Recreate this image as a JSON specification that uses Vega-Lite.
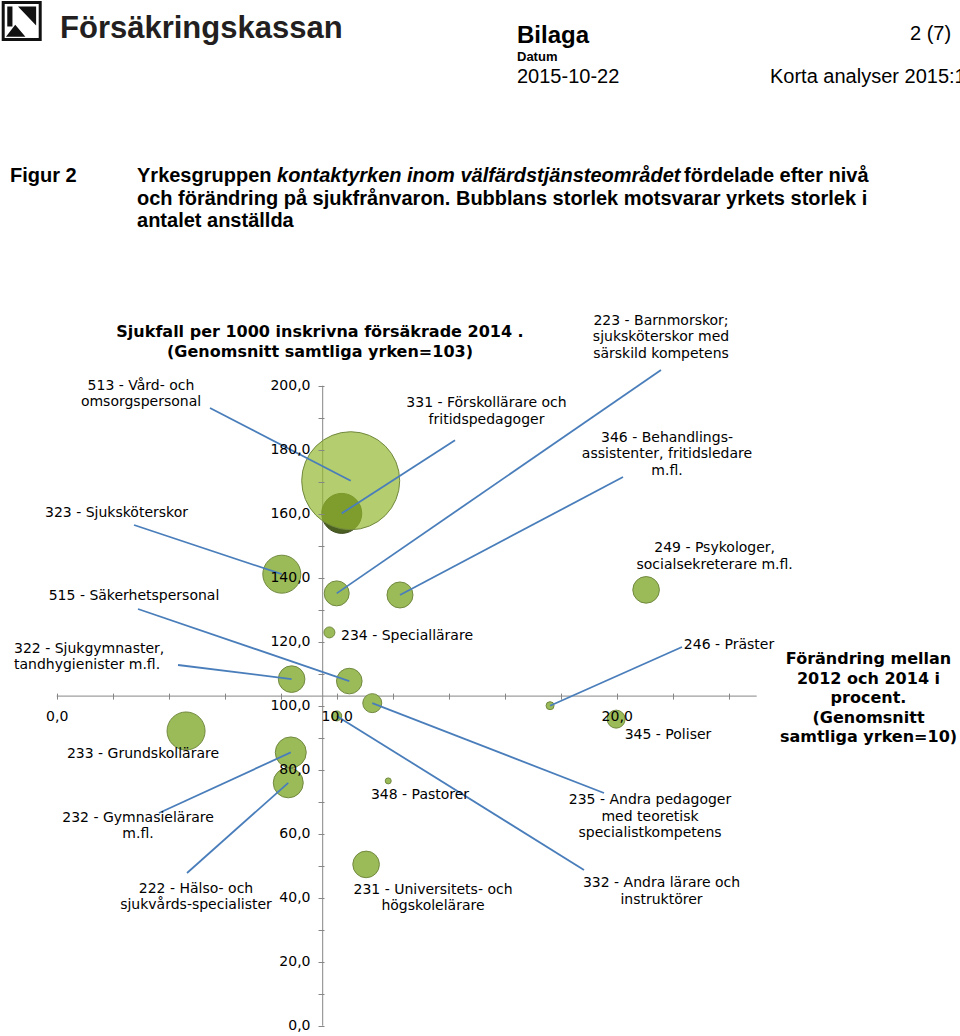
{
  "$schema": "https://vega.github.io/schema/vega-lite/v6.json",
  "width": 960,
  "height": 1036,
  "autosize": {"type": "none"},
  "padding": 0,
  "background": "white",
  "config": {"view": {"stroke": null}},
  "datasets": {
    "yrken": [
      {"kod": "331", "etikett": ["331 - Förskollärare och", "fritidspedagoger"], "forandring": 10.18, "sjukfall": 160.1, "anstallda": 40000, "etikett_x": 15.35, "etikett_y": 194.59, "linje_x": 14.225, "linje_y": 182.97},
      {"kod": "513", "etikett": ["513 - Vård- och", "omsorgspersonal"], "forandring": 10.5, "sjukfall": 170.3, "anstallda": 240000, "etikett_x": 3.011, "etikett_y": 199.91, "linje_x": 5.475, "linje_y": 193.03},
      {"kod": "323", "etikett": ["323 - Sjuksköterskor"], "forandring": 8.04, "sjukfall": 141.1, "anstallda": 36100, "etikett_x": 2.136, "etikett_y": 160.16, "linje_x": 2.761, "linje_y": 156.47},
      {"kod": "223", "etikett": ["223 - Barnmorskor;", "sjuksköterskor med", "särskild kompetens"], "forandring": 10.0, "sjukfall": 135.1, "anstallda": 15600, "etikett_x": 21.582, "etikett_y": 220.22, "linje_x": 21.582, "linje_y": 204.91},
      {"kod": "346", "etikett": ["346 - Behandlings-", "assistenter, fritidsledare", "m.fl."], "forandring": 12.26, "sjukfall": 134.6, "anstallda": 16900, "etikett_x": 21.796, "etikett_y": 183.66, "linje_x": 20.225, "linje_y": 171.47},
      {"kod": "234", "etikett": ["234 - Speciallärare"], "forandring": 9.74, "sjukfall": 122.9, "anstallda": 3000, "etikett_x": 10.154, "etikett_y": 121.78, "linje_x": null, "linje_y": null},
      {"kod": "322", "etikett": ["322 - Sjukgymnaster,", "tandhygienister m.fl."], "forandring": 8.39, "sjukfall": 108.3, "anstallda": 17700, "etikett_x": -1.525, "etikett_y": 117.72, "linje_x": 4.332, "linje_y": 112.72},
      {"kod": "515", "etikett": ["515 - Säkerhetspersonal"], "forandring": 10.45, "sjukfall": 107.7, "anstallda": 16400, "etikett_x": 2.761, "etikett_y": 134.28, "linje_x": 2.904, "linje_y": 130.22},
      {"kod": "235", "etikett": ["235 - Andra pedagoger", "med teoretisk", "specialistkompetens"], "forandring": 11.27, "sjukfall": 100.8, "anstallda": 9000, "etikett_x": 21.189, "etikett_y": 70.53, "linje_x": 19.546, "linje_y": 72.72},
      {"kod": "332", "etikett": ["332 - Andra lärare och", "instruktörer"], "forandring": 10.0, "sjukfall": 96.8, "anstallda": 2500, "etikett_x": 21.6, "etikett_y": 44.59, "linje_x": 18.832, "linje_y": 48.66},
      {"kod": "233", "etikett": ["233 - Grundskollärare"], "forandring": 4.62, "sjukfall": 92.1, "anstallda": 36100, "etikett_x": 3.082, "etikett_y": 84.91, "linje_x": null, "linje_y": null},
      {"kod": "232", "etikett": ["232 - Gymnasielärare", "m.fl."], "forandring": 8.36, "sjukfall": 85.4, "anstallda": 24000, "etikett_x": 2.904, "etikett_y": 64.91, "linje_x": 3.654, "linje_y": 66.47},
      {"kod": "222", "etikett": ["222 - Hälso- och", "sjukvårds-specialister"], "forandring": 8.27, "sjukfall": 75.9, "anstallda": 22500, "etikett_x": 4.975, "etikett_y": 42.73, "linje_x": 4.654, "linje_y": 47.72},
      {"kod": "348", "etikett": ["348 - Pastorer"], "forandring": 11.84, "sjukfall": 76.5, "anstallda": 900, "etikett_x": 12.975, "etikett_y": 72.09, "linje_x": null, "linje_y": null},
      {"kod": "231", "etikett": ["231 - Universitets- och", "högskolelärare"], "forandring": 11.05, "sjukfall": 50.4, "anstallda": 17700, "etikett_x": 13.439, "etikett_y": 42.42, "linje_x": null, "linje_y": null},
      {"kod": "246", "etikett": ["246 - Präster"], "forandring": 17.62, "sjukfall": 100.0, "anstallda": 1600, "etikett_x": 24.011, "etikett_y": 118.97, "linje_x": 22.332, "linje_y": 118.34},
      {"kod": "345", "etikett": ["345 - Poliser"], "forandring": 19.98, "sjukfall": 95.8, "anstallda": 8100, "etikett_x": 21.832, "etikett_y": 90.84, "linje_x": null, "linje_y": null},
      {"kod": "249", "etikett": ["249 - Psykologer,", "socialsekreterare m.fl."], "forandring": 21.05, "sjukfall": 136.2, "anstallda": 17700, "etikett_x": 23.498, "etikett_y": 149.28, "linje_x": null, "linje_y": null}
    ],
    "diagramtexter": [
      {"text": ["Sjukfall per 1000 inskrivna försäkrade 2014 .", "(Genomsnitt samtliga yrken=103)"], "x": 9.404, "y": 216.78},
      {"text": ["Förändring mellan", "2012 och 2014 i", "procent.", "(Genomsnitt", "samtliga yrken=10)"], "x": 28.993, "y": 114.59}
    ],
    "sidtext": [
      {"del": "logotyp", "text": "Försäkringskassan", "x": 0.118, "y": 308.656},
      {"del": "rubrik", "text": "Bilaga", "x": 16.439, "y": 307.19},
      {"del": "sidnummer", "text": "2 (7)", "x": 30.475, "y": 308.03},
      {"del": "datumrubrik", "text": "Datum", "x": 16.439, "y": 301.47},
      {"del": "datum", "text": "2015-10-22", "x": 16.439, "y": 294.5},
      {"del": "serie", "text": "Korta analyser 2015:1", "x": 25.475, "y": 294.5},
      {"del": "figur", "text": "Figur 2", "x": -1.668, "y": 263.81},
      {"del": "bildtext", "text": "Yrkesgruppen", "x": 2.868, "y": 263.81},
      {"del": "bildtext_kursiv", "text": "kontaktyrken inom välfärdstjänsteområdet", "x": 7.868, "y": 263.81},
      {"del": "bildtext", "text": "fördelade efter nivå", "x": 22.404, "y": 263.81},
      {"del": "bildtext", "text": "och förändring på sjukfrånvaron. Bubblans storlek motsvarar yrkets storlek i", "x": 2.868, "y": 256.625},
      {"del": "bildtext", "text": "antalet anställda", "x": 2.868, "y": 249.44}
    ],
    "logo": [{"x": -1.25, "y": 313.97}]
  },
  "layer": [
    {
      "data": {"values": [{}]},
      "mark": {"type": "rule", "color": "#868686", "strokeWidth": 1},
      "encoding": {
        "x": {"datum": 0, "type": "quantitative",
          "scale": {"domain": [-2.025, 32.2607], "nice": false, "zero": false},
          "axis": {"orient": "bottom", "offset": -342.9, "values": [0,1,2,3,4,5,6,7,8,9,10,11,12,13,14,15,16,17,18,19,20,21,22,23,24,25],
            "domain": false, "grid": false, "title": null, "tickColor": "#868686", "tickSize": 6, "tickWidth": 1,
            "labelExpr": "datum.value % 5 === 0 ? replace(format(datum.value, '.1f'), '.', ',') : ''",
            "labelFont": "DejaVu Sans", "labelFontSize": 14, "labelColor": "#000000", "labelPadding": 10,
            "labelFlush": false, "labelOverlap": false, "labelBound": false, "zindex": 1}},
        "x2": {"datum": 25},
        "y": {"datum": 103, "type": "quantitative",
          "scale": {"domain": [-3.21875, 320.53125], "nice": false, "zero": false},
          "axis": {"orient": "left", "offset": -324, "values": [0,10,20,30,40,50,60,70,80,90,100,110,120,130,140,150,160,170,180,190,200],
            "domain": false, "grid": false, "title": null, "tickColor": "#868686", "tickSize": 6, "tickWidth": 1,
            "labelExpr": "datum.value % 20 === 0 ? replace(format(datum.value, '.1f'), '.', ',') : ''",
            "labelFont": "DejaVu Sans", "labelFontSize": 14, "labelColor": "#000000", "labelPadding": 8,
            "labelFlush": false, "labelOverlap": false, "labelBound": false, "zindex": 1}}
      }
    },
    {
      "data": {"values": [{}]},
      "mark": {"type": "rule", "color": "#868686", "strokeWidth": 1},
      "encoding": {
        "x": {"datum": 9.5, "type": "quantitative"},
        "y": {"datum": 0, "type": "quantitative"},
        "y2": {"datum": 200}
      }
    },
    {
      "data": {"name": "yrken"},
      "mark": {"type": "point", "filled": true, "shape": "circle", "strokeWidth": 1},
      "encoding": {
        "x": {"field": "forandring", "type": "quantitative", "title": null},
        "y": {"field": "sjukfall", "type": "quantitative", "title": null},
        "size": {"field": "anstallda", "type": "quantitative", "scale": {"domain": [0, 250000], "range": [0, 10000]}, "legend": null},
        "fill": {"condition": [{"test": "datum.kod === '331'", "value": "#4b5f22"}, {"test": "datum.kod === '513'", "value": "#94b830"}], "value": "#9bbb59"},
        "fillOpacity": {"condition": {"test": "datum.kod === '513'", "value": 0.7}, "value": 1},
        "stroke": {"condition": {"test": "datum.kod === '331'", "value": "#3c4b1e"}, "value": "#71893f"},
        "opacity": {"value": 1}
      }
    },
    {
      "data": {"name": "yrken"},
      "transform": [{"filter": "isValid(datum.linje_x)"}],
      "mark": {"type": "rule", "color": "#4a7ebb", "strokeWidth": 1.8},
      "encoding": {
        "x": {"field": "linje_x", "type": "quantitative", "title": null},
        "y": {"field": "linje_y", "type": "quantitative", "title": null},
        "x2": {"field": "forandring"},
        "y2": {"field": "sjukfall"}
      }
    },
    {
      "data": {"name": "yrken"},
      "transform": [{"filter": "datum.kod !== '234' && datum.kod !== '322'"}],
      "mark": {"type": "text", "font": "DejaVu Sans", "fontSize": 14, "lineHeight": 16.5, "align": "center", "baseline": "middle", "color": "#000000"},
      "encoding": {
        "x": {"field": "etikett_x", "type": "quantitative", "title": null},
        "y": {"field": "etikett_y", "type": "quantitative", "title": null},
        "text": {"field": "etikett", "type": "nominal"}
      }
    },
    {
      "data": {"name": "yrken"},
      "transform": [{"filter": "datum.kod === '234' || datum.kod === '322'"}],
      "mark": {"type": "text", "font": "DejaVu Sans", "fontSize": 14, "lineHeight": 16.5, "align": "left", "baseline": "middle", "color": "#000000"},
      "encoding": {
        "x": {"field": "etikett_x", "type": "quantitative", "title": null},
        "y": {"field": "etikett_y", "type": "quantitative", "title": null},
        "text": {"field": "etikett", "type": "nominal"}
      }
    },
    {
      "data": {"name": "diagramtexter"},
      "mark": {"type": "text", "font": "DejaVu Sans", "fontWeight": "bold", "fontSize": 16, "lineHeight": 19.5, "align": "center", "baseline": "middle", "color": "#000000"},
      "encoding": {
        "x": {"field": "x", "type": "quantitative", "title": null},
        "y": {"field": "y", "type": "quantitative", "title": null},
        "text": {"field": "text", "type": "nominal"}
      }
    },
    {
      "data": {"name": "logo"},
      "mark": {"type": "point", "shape": "square", "size": 1369, "filled": false, "fill": "#ffffff", "stroke": "#111111", "strokeWidth": 3, "opacity": 1},
      "encoding": {
        "x": {"field": "x", "type": "quantitative", "title": null},
        "y": {"field": "y", "type": "quantitative", "title": null}
      }
    },
    {
      "data": {"name": "logo"},
      "mark": {"type": "point", "shape": "M -0.78 -0.78 L -0.5 -0.78 L -0.5 0.3 L -0.78 0.3 Z M -0.2 -0.78 L 0.78 -0.78 L 0.78 0.25 Z M -0.85 0.85 L -0.35 0.2 L 0.2 0.85 Z", "size": 1369, "filled": true, "color": "#111111", "strokeWidth": 0, "opacity": 1},
      "encoding": {
        "x": {"field": "x", "type": "quantitative", "title": null},
        "y": {"field": "y", "type": "quantitative", "title": null}
      }
    },
    {
      "data": {"name": "sidtext"},
      "transform": [{"filter": "datum.del === 'logotyp'"}],
      "mark": {"type": "text", "font": "Liberation Sans", "fontWeight": "bold", "fontSize": 31, "align": "left", "baseline": "alphabetic", "color": "#231f20"},
      "encoding": {
        "x": {"field": "x", "type": "quantitative", "title": null},
        "y": {"field": "y", "type": "quantitative", "title": null},
        "text": {"field": "text", "type": "nominal"}
      }
    },
    {
      "data": {"name": "sidtext"},
      "transform": [{"filter": "datum.del === 'rubrik'"}],
      "mark": {"type": "text", "font": "Liberation Sans", "fontWeight": "bold", "fontSize": 24, "align": "left", "baseline": "alphabetic", "color": "#000000"},
      "encoding": {
        "x": {"field": "x", "type": "quantitative", "title": null},
        "y": {"field": "y", "type": "quantitative", "title": null},
        "text": {"field": "text", "type": "nominal"}
      }
    },
    {
      "data": {"name": "sidtext"},
      "transform": [{"filter": "datum.del === 'datumrubrik'"}],
      "mark": {"type": "text", "font": "Liberation Sans", "fontWeight": "bold", "fontSize": 13, "align": "left", "baseline": "alphabetic", "color": "#000000"},
      "encoding": {
        "x": {"field": "x", "type": "quantitative", "title": null},
        "y": {"field": "y", "type": "quantitative", "title": null},
        "text": {"field": "text", "type": "nominal"}
      }
    },
    {
      "data": {"name": "sidtext"},
      "transform": [{"filter": "datum.del === 'sidnummer' || datum.del === 'datum' || datum.del === 'serie'"}],
      "mark": {"type": "text", "font": "Liberation Sans", "fontSize": 20, "align": "left", "baseline": "alphabetic", "color": "#000000"},
      "encoding": {
        "x": {"field": "x", "type": "quantitative", "title": null},
        "y": {"field": "y", "type": "quantitative", "title": null},
        "text": {"field": "text", "type": "nominal"}
      }
    },
    {
      "data": {"name": "sidtext"},
      "transform": [{"filter": "datum.del === 'figur' || datum.del === 'bildtext'"}],
      "mark": {"type": "text", "font": "Liberation Sans", "fontWeight": "bold", "fontSize": 20, "align": "left", "baseline": "alphabetic", "color": "#000000"},
      "encoding": {
        "x": {"field": "x", "type": "quantitative", "title": null},
        "y": {"field": "y", "type": "quantitative", "title": null},
        "text": {"field": "text", "type": "nominal"}
      }
    },
    {
      "data": {"name": "sidtext"},
      "transform": [{"filter": "datum.del === 'bildtext_kursiv'"}],
      "mark": {"type": "text", "font": "Liberation Sans", "fontWeight": "bold", "fontStyle": "italic", "fontSize": 20, "align": "left", "baseline": "alphabetic", "color": "#000000"},
      "encoding": {
        "x": {"field": "x", "type": "quantitative", "title": null},
        "y": {"field": "y", "type": "quantitative", "title": null},
        "text": {"field": "text", "type": "nominal"}
      }
    }
  ]
}
